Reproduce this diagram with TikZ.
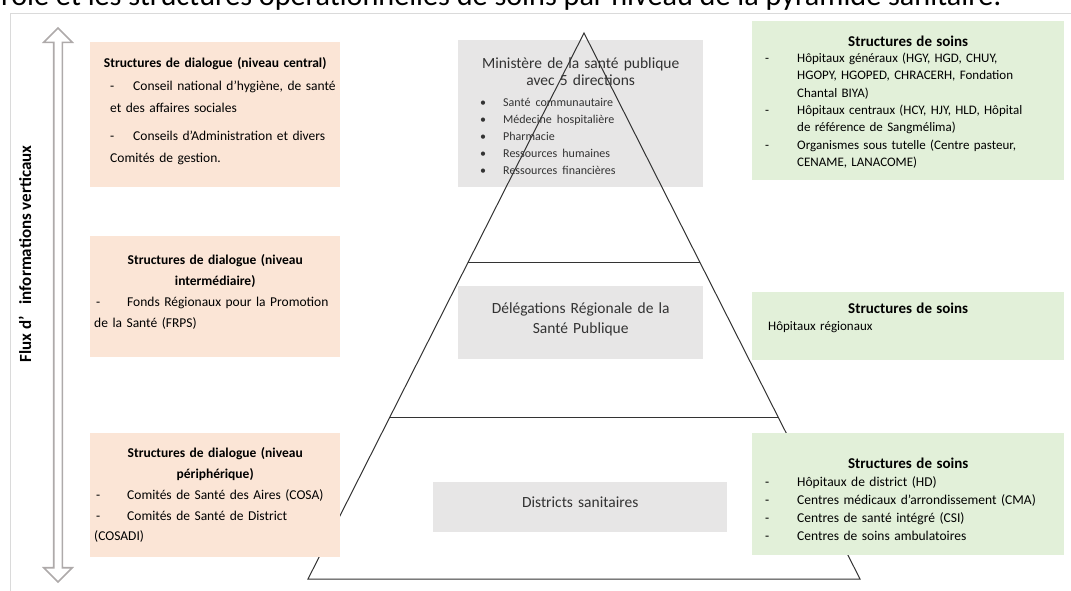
\documentclass[tikz,border=0pt]{standalone}
\usepackage{fontspec}
\setmainfont{Carlito}
\usetikzlibrary{shapes.arrows,calc}
\definecolor{peach}{HTML}{FBE5D6}
\definecolor{sage}{HTML}{E2F0D9}
\definecolor{ash}{HTML}{E7E6E6}
\definecolor{arrowgray}{HTML}{AEAAAA}
\definecolor{framegray}{HTML}{DADADA}
\definecolor{inkgray}{HTML}{333333}
% dash item: dash offset, text offset, hanging indent, text
\newcommand{\tiret}[4]{\par\hangindent=#3\hangafter=1\noindent\hspace*{#1}\makebox[\dimexpr#2-#1\relax][l]{-}#4\par}
\newcommand{\puce}[1]{\par\noindent\hspace*{18pt}\makebox[23pt][l]{\textbullet}#1\par}
\newcommand{\titre}[1]{{\centering\bfseries #1\par}}
\newcommand{\centre}[1]{{\centering #1\par}}
\tikzset{
  box/.style={
    rectangle,
    anchor=north west,
    inner xsep=4pt,
    inner ysep=0pt,
    align=left
  },
  dialogue/.style={
    box,
    fill=peach,
    minimum width=250pt,
    text width=242pt,
    font=\fontsize{13.5}{20.8}\selectfont
  },
  niveau/.style={
    box,
    fill=ash,
    text=inkgray,
    font=\fontsize{15.5}{20}\selectfont
  },
  soins/.style={
    box,
    fill=sage,
    minimum width=312pt,
    text width=304pt,
    font=\fontsize{13}{17.3}\selectfont
  },
  pyramid/.style={
    draw=black!80,
    line width=1pt
  }
}

\begin{document}
\begin{tikzpicture}[x=1pt,y=-1pt]
  \clip (0,0) rectangle (1071,590);
  \node[anchor=base west, font=\fontsize{30.2}{30}\selectfont, inner sep=0pt] (caption) at (1,5) {rôle et les structures opérationnelles de soins par niveau de la pyramide sanitaire.};
  \draw[framegray, line width=1pt] (10,600) -- (10,13) -- (1080,13);

  % vertical information flow
  \node[double arrow, draw=arrowgray, line width=1.6pt, fill=white, minimum height=554pt, inner sep=3.5pt, double arrow head extend=10pt, rotate=90] (flux) at (58,305) {};
  \node[rotate=90, font=\bfseries\fontsize{17}{17}\selectfont] (fluxlabel) at (25,254) {Flux d’\hspace{12pt}informations verticaux};

  % levels of the pyramid
  \node[niveau, minimum width=245pt, text width=237pt, text height=28pt, text depth=119pt, font=\fontsize{15.5}{17}\selectfont] (ministere) at (458,40) {\centre{Ministère de la santé publique\\avec 5 directions}\vspace{4pt}{\fontsize{12}{17}\selectfont
    \puce{Santé communautaire}\puce{Médecine hospitalière}\puce{Pharmacie}\puce{Ressources humaines}\puce{Ressources financières}}};
  \node[niveau, minimum width=245pt, text width=237pt, text height=27pt, text depth=46pt] (delegations) at (458,286) {\centre{Délégations Régionale de la\\Santé Publique}};
  \node[niveau, minimum width=294pt, text width=286pt, text height=25pt, text depth=25pt] (districts) at (433,482) {\centre{Districts sanitaires}};

  \coordinate (apex) at (584,33);
  \coordinate (baseL) at (308,579);
  \coordinate (baseR) at (860,579);
  \draw[pyramid] (apex) -- (baseL) -- (baseR) -- cycle;
  \draw[pyramid] ($(apex)!0.4212!(baseL)$) -- ($(apex)!0.4212!(baseR)$);
  \draw[pyramid] ($(apex)!0.7051!(baseL)$) -- ($(apex)!0.7051!(baseR)$);

  % dialogue structures
  \node[dialogue, text height=25.5pt, text depth=119.5pt, font=\fontsize{13.5}{22.5}\selectfont] (dialcentral) at (90,42) {\titre{Structures de dialogue (niveau central)}%
    \tiret{16pt}{39pt}{16pt}{Conseil national d’hygiène, de santé\newline et des affaires sociales}\vspace{5pt}%
    \tiret{16pt}{39pt}{16pt}{Conseils d’Administration et divers\newline Comités de gestion.}};
  \node[dialogue, text height=28.5pt, text depth=92.5pt] (dialinter) at (90,236) {\titre{Structures de dialogue (niveau\\intermédiaire)}%
    \tiret{2pt}{33pt}{0pt}{Fonds Régionaux pour la Promotion\newline de la Santé (FRPS)}};
  \node[dialogue, text height=24.5pt, text depth=99.5pt] (dialperi) at (90,433) {\titre{Structures de dialogue (niveau\\périphérique)}%
    \tiret{2pt}{33pt}{0pt}{Comités de Santé des Aires (COSA)}%
    \tiret{2pt}{33pt}{0pt}{Comités de Santé de District\newline (COSADI)}};

  % care structures
  \node[soins, text height=25pt, text depth=134pt] (soinscentral) at (752,21) {{\bfseries\fontsize{15}{16.5}\selectfont\centering Structures de soins\par}\vspace{-1pt}%
    \tiret{9pt}{41pt}{41pt}{Hôpitaux généraux (HGY, HGD, CHUY,\newline HGOPY, HGOPED, CHRACERH, Fondation\newline Chantal BIYA)}%
    \tiret{9pt}{41pt}{41pt}{Hôpitaux centraux (HCY, HJY, HLD, Hôpital\newline de référence de Sangmélima)}%
    \tiret{9pt}{41pt}{41pt}{Organismes sous tutelle (Centre pasteur,\newline CENAME, LANACOME)}};
  \node[soins, text height=21pt, text depth=47pt] (soinsregion) at (752,292) {{\bfseries\fontsize{15}{16.5}\selectfont\centering Structures de soins\par}%
    \noindent\hspace*{12pt}Hôpitaux régionaux};
  \node[soins, text height=35pt, text depth=87pt, font=\fontsize{13.5}{18}\selectfont] (soinsperi) at (752,433) {{\bfseries\fontsize{15}{18}\selectfont\centering Structures de soins\par}%
    \tiret{9pt}{41pt}{41pt}{Hôpitaux de district (HD)}%
    \tiret{9pt}{41pt}{41pt}{Centres médicaux d’arrondissement (CMA)}%
    \tiret{9pt}{41pt}{41pt}{Centres de santé intégré (CSI)}%
    \tiret{9pt}{41pt}{41pt}{Centres de soins ambulatoires}};
\end{tikzpicture}
\end{document}
